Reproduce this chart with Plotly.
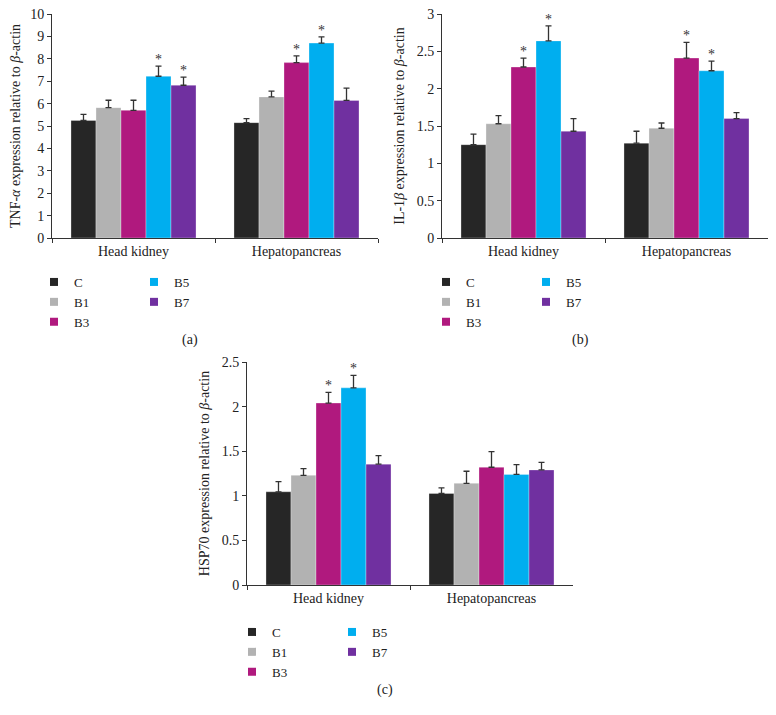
import plotly.graph_objects as go

organs = ['Head kidney', 'Hepatopancreas']
groups = ['C', 'B1', 'B3', 'B5', 'B7']
colors = ['#262626', '#b2b2b2', '#b0197e', '#00aeef', '#7030a0']

# TNF-alpha
tnf_mean = {'C': [5.25, 5.15], 'B1': [5.82, 6.3], 'B3': [5.7, 7.83],
            'B5': [7.22, 8.7], 'B7': [6.82, 6.14]}
tnf_err = {'C': [0.27, 0.18], 'B1': [0.33, 0.26], 'B3': [0.45, 0.3],
           'B5': [0.45, 0.28], 'B7': [0.36, 0.55]}
tnf_sig = {'C': [0, 0], 'B1': [0, 0], 'B3': [0, 1], 'B5': [1, 1], 'B7': [1, 0]}

# IL-1beta
il_mean = {'C': [1.25, 1.27], 'B1': [1.53, 1.47], 'B3': [2.29, 2.41],
           'B5': [2.64, 2.24], 'B7': [1.43, 1.6]}
il_err = {'C': [0.14, 0.16], 'B1': [0.11, 0.07], 'B3': [0.12, 0.21],
          'B5': [0.2, 0.13], 'B7': [0.17, 0.08]}
il_sig = {'C': [0, 0], 'B1': [0, 0], 'B3': [1, 1], 'B5': [1, 1], 'B7': [0, 0]}

# HSP70
hsp_mean = {'C': [1.045, 1.026], 'B1': [1.23, 1.14], 'B3': [2.04, 1.32],
            'B5': [2.21, 1.24], 'B7': [1.355, 1.29]}
hsp_err = {'C': [0.115, 0.063], 'B1': [0.075, 0.135], 'B3': [0.12, 0.175],
           'B5': [0.14, 0.11], 'B7': [0.095, 0.085]}
hsp_sig = {'C': [0, 0], 'B1': [0, 0], 'B3': [1, 0], 'B5': [1, 0], 'B7': [0, 0]}

FONT = 'Liberation Serif'
TXT = '#222222'
AX = '#333333'
BARGAP = 0.233
W, H = 776, 715


def px_x(p):
    return p / W


def px_y(p):
    return 1 - p / H


panels = [
    dict(mean=tnf_mean, err=tnf_err, sig=tnf_sig, sfx='',
         xd=[px_x(44), px_x(370)], yd=[px_y(230), px_y(6)], ymax=10, dtick=1,
         title='TNF-<i>α</i> expression relative to <i>β</i>-actin',
         label='(a)', labpos=(182, 332), legs=('legend', 'legend2'), legpos=(26, 259)),
    dict(mean=il_mean, err=il_err, sig=il_sig, sfx='2',
         xd=[px_x(434), px_x(760)], yd=[px_y(230), px_y(6)], ymax=3, dtick=0.5,
         title='IL-1<i>β</i> expression relative to <i>β</i>-actin',
         label='(b)', labpos=(572, 332), legs=('legend3', 'legend4'), legpos=(418, 259)),
    dict(mean=hsp_mean, err=hsp_err, sig=hsp_sig, sfx='3',
         xd=[px_x(239), px_x(565)], yd=[px_y(577), px_y(354)], ymax=2.5, dtick=0.5,
         title='HSP70 expression relative to <i>β</i>-actin',
         label='(c)', labpos=(377, 682), legs=('legend5', 'legend6'), legpos=(224, 609)),
]

fig = go.Figure()
layout = {}
annotations = []
bw = (1 - BARGAP) / len(groups)

for p in panels:
    xa, ya = 'x' + p['sfx'], 'y' + p['sfx']
    for i, g in enumerate(groups):
        fig.add_trace(go.Bar(
            x=organs, y=p['mean'][g], name=g, showlegend=False,
            marker=dict(color=colors[i], line=dict(color='rgba(255,255,255,0.6)', width=0.5)),
            error_y=dict(type='data', symmetric=False, array=p['err'][g],
                         arrayminus=[0, 0], color=AX, thickness=1.3, width=3),
            xaxis=xa, yaxis=ya, hoverinfo='skip',
        ))
        # legend entry with a small square symbol
        fig.add_trace(go.Scatter(
            x=[None], y=[None], mode='markers', name=g,
            marker=dict(symbol='square', size=8, color=colors[i]),
            xaxis=xa, yaxis=ya,
            legend=p['legs'][0] if i < 3 else p['legs'][1],
        ))
        for j in range(len(organs)):
            if p['sig'][g][j]:
                annotations.append(dict(
                    x=j + (i - 2) * bw, y=p['mean'][g][j] + p['err'][g][j],
                    xref=xa, yref=ya, text='*', showarrow=False,
                    yanchor='bottom', yshift=-3,
                    font=dict(family=FONT, size=14, color=AX)))
    layout['xaxis' + p['sfx']] = dict(
        domain=p['xd'], anchor=ya, range=[-0.5, 1.5], showline=True, linecolor=AX,
        linewidth=1, ticks='outside', tickson='boundaries', ticklen=4,
        tickcolor=AX, showgrid=False, fixedrange=True, automargin=False,
        ticklabeloverflow='allow',
        tickfont=dict(family=FONT, size=14, color=TXT))
    layout['yaxis' + p['sfx']] = dict(
        domain=p['yd'], anchor=xa, range=[0, p['ymax']], dtick=p['dtick'], showline=True,
        linecolor=AX, linewidth=1, ticks='outside', ticklen=4,
        tickcolor=AX, showgrid=False, zeroline=False, fixedrange=True, automargin=False,
        ticklabeloverflow='allow',
        tickfont=dict(family=FONT, size=14, color=TXT),
        title=dict(text=p['title'], standoff=8,
                   font=dict(family=FONT, size=14, color=TXT)))
    annotations.append(dict(
        x=px_x(p['labpos'][0]), y=px_y(p['labpos'][1]), xref='paper', yref='paper',
        text=p['label'], showarrow=False, xanchor='center', yanchor='middle',
        font=dict(family=FONT, size=14, color=TXT)))
    for k, leg in enumerate(p['legs']):
        layout[leg] = dict(
            x=px_x(p['legpos'][0] + k * 100), y=px_y(p['legpos'][1]),
            xanchor='left', yanchor='top', orientation='v',
            bgcolor='rgba(0,0,0,0)', itemwidth=30, tracegroupgap=0,
            font=dict(family=FONT, size=13, color=TXT))

fig.update_layout(
    width=W, height=H, margin=dict(l=0, r=0, t=0, b=0, autoexpand=False),
    paper_bgcolor='white', plot_bgcolor='white',
    barmode='group', bargap=BARGAP, bargroupgap=0,
    showlegend=True, annotations=annotations, **layout)

fig.write_html('out.html')
